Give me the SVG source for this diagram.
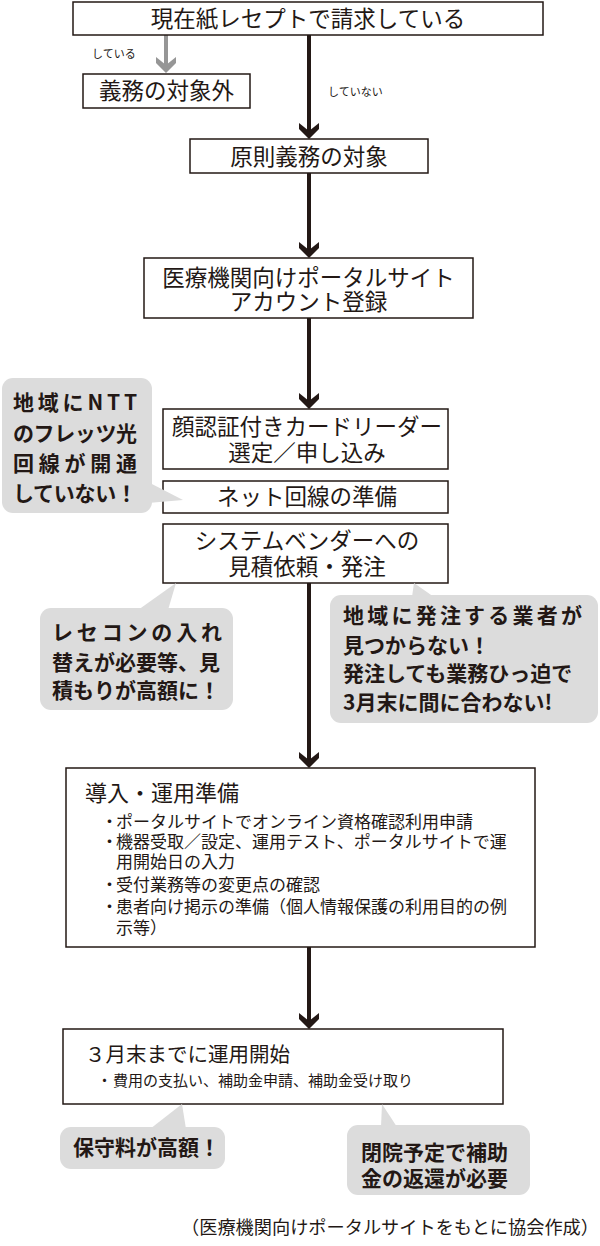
<svg xmlns="http://www.w3.org/2000/svg" width="600" height="1246" viewBox="0 0 600 1246">
<style>
.box{fill:#fff;stroke:#231815;stroke-width:1.5}
.bt{font-family:"Noto Sans CJK JP","Noto Sans",sans-serif;font-size:22.5px;fill:#231815;text-anchor:middle}
.lt{font-family:"Noto Sans CJK JP","Noto Sans",sans-serif;fill:#231815}
.bub{fill:#dcdcdc}
.ct{font-family:"Noto Sans CJK JP","Noto Sans",sans-serif;font-size:21px;font-weight:700;fill:#231815}
.sm{font-family:"Noto Sans CJK JP","Noto Sans",sans-serif;font-size:11px;fill:#231815}
.ln{stroke:#231815;stroke-width:4;fill:none}
.hd{fill:#231815}
</style>
<g id="connectors">
  <line x1="166" y1="35" x2="166" y2="66" stroke="#969696" stroke-width="4"/>
  <path d="M156,57 L166,65 L176,57 L176,63 L166,73 L156,63 Z" fill="#969696"/>
  <line class="ln" x1="309" y1="35" x2="309" y2="134"/>
  <path class="hd" d="M299,123 L309,131 L319,123 L319,129 L309,139 L299,129 Z"/>
  <line class="ln" x1="309" y1="173" x2="309" y2="253"/>
  <path class="hd" d="M299,242 L309,250 L319,242 L319,248 L309,258 L299,248 Z"/>
  <line class="ln" x1="309" y1="318" x2="309" y2="404"/>
  <path class="hd" d="M299,393 L309,401 L319,393 L319,399 L309,409 L299,399 Z"/>
  <line class="ln" x1="309" y1="583" x2="309" y2="763"/>
  <path class="hd" d="M299,752 L309,760 L319,752 L319,758 L309,768 L299,758 Z"/>
  <line class="ln" x1="309" y1="947" x2="309" y2="1024"/>
  <path class="hd" d="M299,1013 L309,1021 L319,1013 L319,1019 L309,1029 L299,1019 Z"/>
  <text class="sm" x="92" y="58">している</text>
  <text class="sm" x="328" y="96">していない</text>
</g>
<g id="n-top">
  <rect class="box" x="73" y="2" width="470" height="33"/>
  <text class="bt" x="308" y="27">現在紙レセプトで請求している</text>
</g>
<g id="n-exempt">
  <rect class="box" x="83" y="74" width="167" height="34"/>
  <text class="bt" x="166.5" y="99">義務の対象外</text>
</g>
<g id="n-target">
  <rect class="box" x="190" y="139" width="238" height="34"/>
  <text class="bt" x="309" y="165">原則義務の対象</text>
</g>
<g id="n-account">
  <rect class="box" x="144" y="258" width="329" height="60"/>
  <text class="bt"><tspan x="308.5" y="286">医療機関向けポータルサイト</tspan><tspan x="308.5" y="310">アカウント登録</tspan></text>
</g>
<g id="n-reader">
  <rect class="box" x="163" y="409" width="285" height="60"/>
  <text class="bt"><tspan x="307" y="435">顔認証付きカードリーダー</tspan><tspan x="307" y="461">選定／申し込み</tspan></text>
</g>
<g id="n-net">
  <rect class="box" x="163" y="481" width="285" height="32"/>
  <text class="bt" x="307" y="505">ネット回線の準備</text>
</g>
<g id="n-vendor">
  <rect class="box" x="163" y="524" width="285" height="59"/>
  <text class="bt"><tspan x="307" y="549">システムベンダーへの</tspan><tspan x="307" y="575">見積依頼・発注</tspan></text>
</g>
<g id="n-prep">
  <rect class="box" x="66" y="768" width="469" height="179"/>
  <text class="lt" x="85" y="801" font-size="22">導入・運用準備</text>
  <text class="lt" font-size="17">
    <tspan x="101" y="828">・</tspan><tspan x="116" y="828">ポータルサイトでオンライン資格確認利用申請</tspan>
    <tspan x="101" y="848">・</tspan><tspan x="116" y="848">機器受取／設定、運用テスト、ポータルサイトで運</tspan>
    <tspan x="116" y="868">用開始日の入力</tspan>
    <tspan x="101" y="891">・</tspan><tspan x="116" y="891">受付業務等の変更点の確認</tspan>
    <tspan x="101" y="913">・</tspan><tspan x="116" y="913">患者向け掲示の準備（個人情報保護の利用目的の例</tspan>
    <tspan x="116" y="934">示等）</tspan>
  </text>
</g>
<g id="n-start">
  <rect class="box" x="63" y="1029" width="440" height="75"/>
  <text class="lt" x="85" y="1062" font-size="20.5">３月末までに運用開始</text>
  <text class="lt" font-size="15"><tspan x="97" y="1086">・</tspan><tspan x="113" y="1086">費用の支払い、補助金申請、補助金受け取り</tspan></text>
</g>
<g id="c-ntt">
  <rect class="bub" x="2" y="378" width="150" height="135" rx="11"/>
  <path class="bub" d="M148,482 L183,500 L148,503 Z"/>
  <text class="ct" x="13" y="410" textLength="124" lengthAdjust="spacing">地域にNTT</text>
  <text class="ct" x="13" y="441" textLength="124" lengthAdjust="spacing">のフレッツ光</text>
  <text class="ct" x="13" y="471" textLength="124" lengthAdjust="spacing">回線が開通</text>
  <text class="ct" x="13" y="501" textLength="124" lengthAdjust="spacing">していない！</text>
</g>
<g id="c-rececon">
  <rect class="bub" x="40" y="608" width="193" height="102" rx="11"/>
  <path class="bub" d="M138,610 L176,583 L168,610 Z"/>
  <text class="ct" x="52" y="640" textLength="170" lengthAdjust="spacing">レセコンの入れ</text>
  <text class="ct" x="52" y="670">替えが必要等、見</text>
  <text class="ct" x="52" y="698">積もりが高額に！</text>
</g>
<g id="c-vendor">
  <rect class="bub" x="330" y="595" width="268" height="128" rx="11"/>
  <path class="bub" d="M414,583 L412,597 L434,597 Z"/>
  <text class="ct" x="343" y="623" textLength="239" lengthAdjust="spacing">地域に発注する業者が</text>
  <text class="ct" x="343" y="653">見つからない！</text>
  <text class="ct" x="343" y="681">発注しても業務ひっ迫で</text>
  <text class="ct" x="343" y="710">3月末に間に合わない!</text>
</g>
<g id="c-fee">
  <rect class="bub" x="60" y="1127" width="165" height="42" rx="11"/>
  <path class="bub" d="M150,1129 L182,1104 L186,1129 Z"/>
  <text class="ct" x="73" y="1155" font-size="20.5">保守料が高額！</text>
</g>
<g id="c-close">
  <rect class="bub" x="347" y="1125" width="183" height="70" rx="11"/>
  <path class="bub" d="M382,1104 L381,1127 L397,1127 Z"/>
  <text class="ct" x="361" y="1160" font-size="21.7">閉院予定で補助</text>
  <text class="ct" x="361" y="1186" font-size="21.7">金の返還が必要</text>
</g>
<text class="lt" x="599" y="1234" font-size="18.2" text-anchor="end" fill="#333">（医療機関向けポータルサイトをもとに協会作成）</text>
</svg>
